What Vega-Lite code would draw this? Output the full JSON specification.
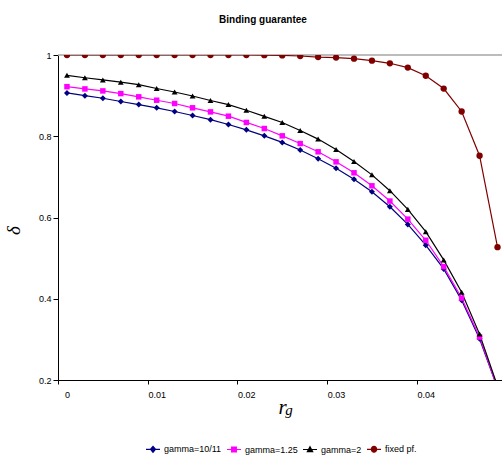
{
  "$schema": "https://vega.github.io/schema/vega-lite/v6.json",
  "width": 444,
  "height": 325,
  "autosize": {"type": "none"},
  "padding": {"left": 58, "top": 55, "right": 0, "bottom": 82},
  "background": "white",
  "title": {"text": "Binding guarantee", "font": "Liberation Sans Narrow, Arial Narrow, Liberation Sans", "fontSize": 10, "fontWeight": "bold", "color": "#000", "anchor": "middle", "frame": "group", "dx": -17, "offset": 18.5, "baseline": "alphabetic"},
  "config": {"view": {"stroke": null}},
  "datasets": {
    "d": [
      {"x": 0.000, "series": "gamma=10/11", "y": 0.9066},
      {"x": 0.002, "series": "gamma=10/11", "y": 0.9000},
      {"x": 0.004, "series": "gamma=10/11", "y": 0.8936},
      {"x": 0.006, "series": "gamma=10/11", "y": 0.8855},
      {"x": 0.008, "series": "gamma=10/11", "y": 0.8780},
      {"x": 0.010, "series": "gamma=10/11", "y": 0.8700},
      {"x": 0.012, "series": "gamma=10/11", "y": 0.8610},
      {"x": 0.014, "series": "gamma=10/11", "y": 0.8510},
      {"x": 0.016, "series": "gamma=10/11", "y": 0.8408},
      {"x": 0.018, "series": "gamma=10/11", "y": 0.8290},
      {"x": 0.020, "series": "gamma=10/11", "y": 0.8157},
      {"x": 0.022, "series": "gamma=10/11", "y": 0.8010},
      {"x": 0.024, "series": "gamma=10/11", "y": 0.7848},
      {"x": 0.026, "series": "gamma=10/11", "y": 0.7660},
      {"x": 0.028, "series": "gamma=10/11", "y": 0.7445},
      {"x": 0.030, "series": "gamma=10/11", "y": 0.7210},
      {"x": 0.032, "series": "gamma=10/11", "y": 0.6940},
      {"x": 0.034, "series": "gamma=10/11", "y": 0.6634},
      {"x": 0.036, "series": "gamma=10/11", "y": 0.6265},
      {"x": 0.038, "series": "gamma=10/11", "y": 0.5830},
      {"x": 0.040, "series": "gamma=10/11", "y": 0.5320},
      {"x": 0.042, "series": "gamma=10/11", "y": 0.4735},
      {"x": 0.044, "series": "gamma=10/11", "y": 0.3966},
      {"x": 0.046, "series": "gamma=10/11", "y": 0.3015},
      {"x": 0.048, "series": "gamma=10/11", "y": 0.1800},
      {"x": 0.000, "series": "gamma=1.25", "y": 0.9220},
      {"x": 0.002, "series": "gamma=1.25", "y": 0.9165},
      {"x": 0.004, "series": "gamma=1.25", "y": 0.9116},
      {"x": 0.006, "series": "gamma=1.25", "y": 0.9050},
      {"x": 0.008, "series": "gamma=1.25", "y": 0.8970},
      {"x": 0.010, "series": "gamma=1.25", "y": 0.8887},
      {"x": 0.012, "series": "gamma=1.25", "y": 0.8806},
      {"x": 0.014, "series": "gamma=1.25", "y": 0.8700},
      {"x": 0.016, "series": "gamma=1.25", "y": 0.8600},
      {"x": 0.018, "series": "gamma=1.25", "y": 0.8494},
      {"x": 0.020, "series": "gamma=1.25", "y": 0.8340},
      {"x": 0.022, "series": "gamma=1.25", "y": 0.8190},
      {"x": 0.024, "series": "gamma=1.25", "y": 0.8010},
      {"x": 0.026, "series": "gamma=1.25", "y": 0.7820},
      {"x": 0.028, "series": "gamma=1.25", "y": 0.7617},
      {"x": 0.030, "series": "gamma=1.25", "y": 0.7370},
      {"x": 0.032, "series": "gamma=1.25", "y": 0.7100},
      {"x": 0.034, "series": "gamma=1.25", "y": 0.6780},
      {"x": 0.036, "series": "gamma=1.25", "y": 0.6405},
      {"x": 0.038, "series": "gamma=1.25", "y": 0.5960},
      {"x": 0.040, "series": "gamma=1.25", "y": 0.5440},
      {"x": 0.042, "series": "gamma=1.25", "y": 0.4790},
      {"x": 0.044, "series": "gamma=1.25", "y": 0.4015},
      {"x": 0.046, "series": "gamma=1.25", "y": 0.3057},
      {"x": 0.048, "series": "gamma=1.25", "y": 0.1800},
      {"x": 0.000, "series": "gamma=2", "y": 0.9500},
      {"x": 0.002, "series": "gamma=2", "y": 0.9440},
      {"x": 0.004, "series": "gamma=2", "y": 0.9386},
      {"x": 0.006, "series": "gamma=2", "y": 0.9330},
      {"x": 0.008, "series": "gamma=2", "y": 0.9270},
      {"x": 0.010, "series": "gamma=2", "y": 0.9175},
      {"x": 0.012, "series": "gamma=2", "y": 0.9090},
      {"x": 0.014, "series": "gamma=2", "y": 0.8990},
      {"x": 0.016, "series": "gamma=2", "y": 0.8880},
      {"x": 0.018, "series": "gamma=2", "y": 0.8780},
      {"x": 0.020, "series": "gamma=2", "y": 0.8640},
      {"x": 0.022, "series": "gamma=2", "y": 0.8490},
      {"x": 0.024, "series": "gamma=2", "y": 0.8340},
      {"x": 0.026, "series": "gamma=2", "y": 0.8140},
      {"x": 0.028, "series": "gamma=2", "y": 0.7930},
      {"x": 0.030, "series": "gamma=2", "y": 0.7676},
      {"x": 0.032, "series": "gamma=2", "y": 0.7380},
      {"x": 0.034, "series": "gamma=2", "y": 0.7050},
      {"x": 0.036, "series": "gamma=2", "y": 0.6660},
      {"x": 0.038, "series": "gamma=2", "y": 0.6200},
      {"x": 0.040, "series": "gamma=2", "y": 0.5650},
      {"x": 0.042, "series": "gamma=2", "y": 0.4956},
      {"x": 0.044, "series": "gamma=2", "y": 0.4160},
      {"x": 0.046, "series": "gamma=2", "y": 0.3130},
      {"x": 0.048, "series": "gamma=2", "y": 0.1850},
      {"x": 0.000, "series": "fixed pf.", "y": 1.0000},
      {"x": 0.002, "series": "fixed pf.", "y": 1.0000},
      {"x": 0.004, "series": "fixed pf.", "y": 1.0000},
      {"x": 0.006, "series": "fixed pf.", "y": 1.0000},
      {"x": 0.008, "series": "fixed pf.", "y": 1.0000},
      {"x": 0.010, "series": "fixed pf.", "y": 1.0000},
      {"x": 0.012, "series": "fixed pf.", "y": 1.0000},
      {"x": 0.014, "series": "fixed pf.", "y": 1.0000},
      {"x": 0.016, "series": "fixed pf.", "y": 1.0000},
      {"x": 0.018, "series": "fixed pf.", "y": 1.0000},
      {"x": 0.020, "series": "fixed pf.", "y": 1.0000},
      {"x": 0.022, "series": "fixed pf.", "y": 0.9995},
      {"x": 0.024, "series": "fixed pf.", "y": 0.9990},
      {"x": 0.026, "series": "fixed pf.", "y": 0.9975},
      {"x": 0.028, "series": "fixed pf.", "y": 0.9950},
      {"x": 0.030, "series": "fixed pf.", "y": 0.9936},
      {"x": 0.032, "series": "fixed pf.", "y": 0.9910},
      {"x": 0.034, "series": "fixed pf.", "y": 0.9860},
      {"x": 0.036, "series": "fixed pf.", "y": 0.9796},
      {"x": 0.038, "series": "fixed pf.", "y": 0.9690},
      {"x": 0.040, "series": "fixed pf.", "y": 0.9490},
      {"x": 0.042, "series": "fixed pf.", "y": 0.9174},
      {"x": 0.044, "series": "fixed pf.", "y": 0.8610},
      {"x": 0.046, "series": "fixed pf.", "y": 0.7520},
      {"x": 0.048, "series": "fixed pf.", "y": 0.5270}
    ]
  },
  "data": {"name": "d"},
  "layer": [
    {
      "data": {"values": [{}]},
      "mark": {"type": "rule", "color": "#a6a6a6", "strokeWidth": 1.6},
      "encoding": {"y": {"datum": 1, "type": "quantitative"}}
    },
    {
      "transform": [{"filter": "datum.series === 'gamma=10/11'"}],
      "mark": {"type": "line", "strokeWidth": 1.2, "clip": true, "color": "#000080"},
      "encoding": {
        "x": {
          "field": "x", "type": "quantitative",
          "scale": {"domain": [-0.001, 0.0485], "nice": false, "zero": false},
          "axis": {
            "title": "r", "values": [0, 0.01, 0.02, 0.03, 0.04], "format": "~g",
            "tickOffset": -9, "labelOffset": 9, "grid": false,
            "domainColor": "#000", "tickColor": "#000", "tickSize": 4, "labelPadding": 6,
            "labelFont": "Liberation Sans Narrow, Arial Narrow, Liberation Sans", "labelFontSize": 9, "labelColor": "#000", "labelFlush": false,
            "titleFont": "Liberation Serif", "titleFontStyle": "italic", "titleFontWeight": "normal", "titleFontSize": 21,
            "titleColor": "#000", "titleX": 224, "titleY": 33, "titleBaseline": "alphabetic", "titleAlign": "center"
          }
        },
        "y": {
          "field": "y", "type": "quantitative",
          "scale": {"domain": [0.2, 1], "nice": false, "zero": false},
          "axis": {
            "title": "δ", "values": [0.2, 0.4, 0.6, 0.8, 1], "format": "~g", "grid": false,
            "domainColor": "#000", "tickColor": "#000", "tickSize": 5, "labelPadding": 2,
            "labelFont": "Liberation Sans Narrow, Arial Narrow, Liberation Sans", "labelFontSize": 9, "labelColor": "#000",
            "titleFont": "Liberation Serif", "titleFontStyle": "italic", "titleFontWeight": "normal", "titleFontSize": 19,
            "titleColor": "#000", "titleAngle": 270, "titleX": -35, "titleY": 175, "titleBaseline": "bottom", "titleAlign": "center"
          }
        }
      }
    },
    {
      "transform": [{"filter": "datum.series === 'gamma=1.25'"}],
      "mark": {"type": "line", "strokeWidth": 1.2, "clip": true, "color": "#ff00ff"},
      "encoding": {"x": {"field": "x", "type": "quantitative"}, "y": {"field": "y", "type": "quantitative"}}
    },
    {
      "transform": [{"filter": "datum.series === 'gamma=2'"}],
      "mark": {"type": "line", "strokeWidth": 1.2, "clip": true, "color": "#000000"},
      "encoding": {"x": {"field": "x", "type": "quantitative"}, "y": {"field": "y", "type": "quantitative"}}
    },
    {
      "transform": [{"filter": "datum.series === 'fixed pf.'"}],
      "mark": {"type": "line", "strokeWidth": 1.2, "clip": true, "color": "#800000"},
      "encoding": {"x": {"field": "x", "type": "quantitative"}, "y": {"field": "y", "type": "quantitative"}}
    },
    {
      "transform": [{"filter": "datum.series === 'gamma=10/11'"}],
      "mark": {"type": "point", "shape": "diamond", "filled": true, "color": "#000080", "size": 36, "opacity": 1, "clip": true},
      "encoding": {"x": {"field": "x", "type": "quantitative"}, "y": {"field": "y", "type": "quantitative"}}
    },
    {
      "transform": [{"filter": "datum.series === 'gamma=1.25'"}],
      "mark": {"type": "point", "shape": "square", "filled": true, "color": "#ff00ff", "size": 30, "opacity": 1, "clip": true},
      "encoding": {"x": {"field": "x", "type": "quantitative"}, "y": {"field": "y", "type": "quantitative"}}
    },
    {
      "transform": [{"filter": "datum.series === 'gamma=2'"}],
      "mark": {"type": "point", "shape": "triangle-up", "filled": true, "color": "#000000", "size": 34, "opacity": 1, "clip": true},
      "encoding": {"x": {"field": "x", "type": "quantitative"}, "y": {"field": "y", "type": "quantitative"}}
    },
    {
      "transform": [{"filter": "datum.series === 'fixed pf.'"}],
      "mark": {"type": "point", "shape": "circle", "filled": true, "color": "#800000", "size": 40, "opacity": 1, "clip": true},
      "encoding": {"x": {"field": "x", "type": "quantitative"}, "y": {"field": "y", "type": "quantitative"}}
    },
    {
      "mark": {"type": "point", "filled": true, "opacity": 0, "clip": true},
      "encoding": {
        "x": {"field": "x", "type": "quantitative"},
        "y": {"field": "y", "type": "quantitative"},
        "color": {
          "field": "series", "type": "nominal",
          "scale": {"domain": ["gamma=10/11", "gamma=1.25", "gamma=2", "fixed pf."], "range": ["#000080", "#ff00ff", "#000000", "#800000"]},
          "legend": {
            "title": null, "orient": "none", "direction": "horizontal", "legendX": 87, "legendY": 386,
            "symbolSize": 196, "symbolOpacity": 1, "symbolStrokeWidth": 1.2,
            "labelFont": "Liberation Sans Narrow, Arial Narrow, Liberation Sans", "labelFontSize": 9, "labelColor": "#000",
            "labelOffset": 3, "columnPadding": 2, "padding": 0,
            "encode": {"symbols": {"update": {"stroke": {"scale": "color", "field": "value"}}}}
          }
        },
        "shape": {
          "field": "series", "type": "nominal",
          "scale": {
            "domain": ["gamma=10/11", "gamma=1.25", "gamma=2", "fixed pf."],
            "range": [
              "M-1,0H1M0,-0.42L0.36,0L0,0.42L-0.36,0Z",
              "M-1,0H1M-0.34,-0.34H0.34V0.34H-0.34Z",
              "M-1,0H1M0,-0.4L0.38,0.3H-0.38Z",
              "M-1,0H1M0.38,0A0.38,0.42 0 1,1 -0.38,0A0.38,0.42 0 1,1 0.38,0Z"
            ]
          },
          "legend": {
            "title": null, "orient": "none", "direction": "horizontal", "legendX": 87, "legendY": 386,
            "symbolSize": 196, "symbolOpacity": 1, "symbolStrokeWidth": 1.2,
            "labelFont": "Liberation Sans Narrow, Arial Narrow, Liberation Sans", "labelFontSize": 9, "labelColor": "#000",
            "labelOffset": 3, "columnPadding": 2, "padding": 0,
            "encode": {"symbols": {"update": {"stroke": {"scale": "color", "field": "value"}}}}
          }
        }
      }
    },
    {
      "data": {"values": [{}]},
      "mark": {"type": "text", "text": "g", "font": "Liberation Serif", "fontStyle": "italic", "fontSize": 15, "baseline": "alphabetic", "align": "center", "dy": 35, "color": "#000"},
      "encoding": {"x": {"datum": 0.02475, "type": "quantitative"}, "y": {"datum": 0.2, "type": "quantitative"}}
    }
  ]
}
